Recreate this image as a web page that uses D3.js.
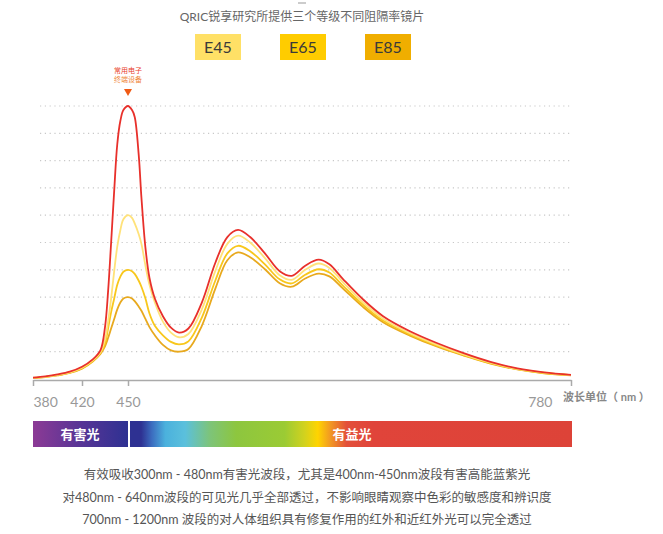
<!DOCTYPE html>
<html>
<head>
<meta charset="utf-8">
<script src="https://cdn.jsdelivr.net/npm/d3@7"></script>
<style>
  body { margin: 0; background: #fff; font-family: Lato, "Noto Sans CJK SC", sans-serif; }
</style>
</head>
<body>
<div id="chart"></div>
<script>
// wavelengths (nm) the curves are sampled at
const wavelengths = [380, 390, 400, 410, 420, 427, 432, 435, 437, 439, 441, 443, 445, 447, 450, 453, 455, 458, 460, 463, 466, 470, 476, 482, 488, 495, 505, 515, 524, 532, 541, 552, 563, 572, 582, 592, 600, 610, 625, 640, 660, 680, 700, 720, 740, 760, 780];

// relative intensity, no lens (red) and the three lens grades
const noLens = [0.05, 0.1, 0.17, 0.27, 0.45, 0.72, 1.05, 1.9, 3.2, 5.0, 6.9, 8.6, 9.45, 9.85, 10.0, 9.85, 9.6, 8.2, 6.65, 4.8, 3.7, 2.95, 2.3, 1.88, 1.7, 1.85, 2.8, 4.25, 5.2, 5.46, 5.2, 4.6, 3.95, 3.78, 4.15, 4.37, 4.2, 3.67, 2.92, 2.3, 1.75, 1.32, 0.95, 0.63, 0.39, 0.24, 0.15];
const e45 = [0.04, 0.08, 0.15, 0.24, 0.41, 0.68, 0.98, 1.45, 2.1, 2.95, 3.95, 4.85, 5.45, 5.85, 6.0, 5.9, 5.7, 5.3, 4.95, 4.15, 3.45, 2.8, 2.1, 1.7, 1.53, 1.65, 2.55, 3.95, 4.95, 5.25, 5.0, 4.43, 3.8, 3.63, 4.0, 4.23, 4.07, 3.55, 2.81, 2.21, 1.68, 1.26, 0.9, 0.6, 0.37, 0.23, 0.14];
const e65 = [0.04, 0.08, 0.14, 0.23, 0.4, 0.66, 0.95, 1.3, 1.85, 2.45, 2.95, 3.45, 3.75, 3.93, 4.0, 3.95, 3.85, 3.6, 3.38, 2.95, 2.4, 1.95, 1.6, 1.36, 1.27, 1.38, 2.25, 3.6, 4.6, 4.88, 4.68, 4.2, 3.65, 3.5, 3.82, 4.02, 3.9, 3.42, 2.72, 2.14, 1.63, 1.22, 0.88, 0.58, 0.36, 0.22, 0.14];
const e85 = [0.03, 0.07, 0.13, 0.22, 0.38, 0.64, 0.92, 1.2, 1.5, 1.85, 2.2, 2.55, 2.8, 2.95, 3.0, 2.95, 2.85, 2.65, 2.5, 2.2, 1.9, 1.6, 1.25, 1.05, 1.0, 1.1, 1.95, 3.3, 4.35, 4.64, 4.46, 4.02, 3.51, 3.38, 3.68, 3.86, 3.76, 3.32, 2.64, 2.08, 1.59, 1.19, 0.86, 0.56, 0.35, 0.21, 0.13];

const seriesNames = ["E85", "E65", "E45", "无镜片"];
const seriesValues = [e85, e65, e45, noLens];
const seriesColors = ["#E8A91E", "#F8C71C", "#FFE27A", "#E8302B"];

const legendLabels = ["E45", "E65", "E85"];
const legendColors = ["#FFE066", "#FFCC00", "#F0AE00"];

const xTicks = [380, 420, 450, 780];

const title = "QRIC锐享研究所提供三个等级不同阻隔率镜片";
const noteLines = ["常用电子", "终端设备"];
const bandLabels = ["有害光", "有益光"];
const captions = [
  "有效吸收300nm - 480nm有害光波段，尤其是400nm-450nm波段有害高能蓝紫光",
  "对480nm - 640nm波段的可见光几乎全部透过，不影响眼睛观察中色彩的敏感度和辨识度",
  "700nm - 1200nm 波段的对人体组织具有修复作用的红外和近红外光可以完全透过"
];

let width = 663,
  height = 534;

let svg = d3.select("#chart")
  .append("svg")
  .attr("width", width)
  .attr("height", height);

// x is not evenly spaced in the original, so piecewise
let x = d3.scaleLinear()
  .domain(xTicks)
  .range([33, 82, 128, 571]);

let y = d3.scaleLinear()
  .domain([0, 10])
  .range([379, 106]);

// little mark at top
svg.append("line")
  .attr("x1", 298).attr("x2", 306)
  .attr("y1", 3).attr("y2", 3)
  .attr("stroke", "#999");

svg.append("text")
  .text(title)
  .attr("x", 302)
  .attr("y", 21)
  .attr("text-anchor", "middle")
  .style("font-size", "12px")
  .style("fill", "#666");

// legend boxes
let legend = svg.append("g")
  .selectAll("g")
  .data(legendLabels)
  .join("g")
  .attr("transform", (d, i) => `translate(${195 + i * 85},34)`);

legend.append("rect")
  .attr("width", 46)
  .attr("height", 26)
  .attr("fill", (d, i) => legendColors[i]);

legend.append("text")
  .text(d => d)
  .attr("x", 23)
  .attr("y", 19)
  .attr("text-anchor", "middle")
  .style("font-size", "16px")
  .style("fill", "#3a3a3a");

// dotted grid
svg.append("g")
  .selectAll("line")
  .data(y.ticks(10).filter(d => d > 0))
  .join("line")
  .attr("x1", 40)
  .attr("x2", 572)
  .attr("y1", d => y(d))
  .attr("y2", d => y(d))
  .attr("stroke", "#c8c8c8")
  .attr("stroke-width", 1.2)
  .attr("stroke-dasharray", "1.2,3.6");

// axis
let axis = svg.append("g")
  .attr("transform", "translate(0,380)")
  .call(d3.axisBottom(x).tickValues(xTicks).tickSize(6).tickSizeOuter(0).tickPadding(11));

axis.select(".domain").attr("stroke", "#aaa").attr("stroke-width", 1.5);
axis.selectAll(".tick line").attr("stroke", "#aaa").attr("stroke-width", 1.5);
axis.selectAll(".tick text")
  .style("font-size", "14px")
  .style("font-family", "Lato, sans-serif")
  .attr("fill", "#999");
axis.selectAll(".tick text").filter(d => d == 380).attr("text-anchor", "start");
axis.selectAll(".tick text").filter(d => d == 780).attr("text-anchor", "end").attr("dx", -19);

svg.append("text")
  .text("波长单位（ nm ）")
  .attr("x", 563)
  .attr("y", 401)
  .style("font-size", "11px")
  .style("font-weight", "bold")
  .style("fill", "#888");

// curves
let line = d3.line()
  .x((d, i) => x(wavelengths[i]))
  .y(d => y(d))
  .curve(d3.curveCatmullRom.alpha(0.5));

svg.append("g")
  .selectAll("path")
  .data(seriesValues)
  .join("path")
  .attr("d", line)
  .attr("fill", "none")
  .attr("stroke", (d, i) => seriesColors[i])
  .attr("stroke-width", 1.8);

// peak annotation
let peakX = x(450);
svg.append("g")
  .selectAll("text")
  .data(noteLines)
  .join("text")
  .text(d => d)
  .attr("x", peakX)
  .attr("y", (d, i) => 73 + i * 9)
  .attr("text-anchor", "middle")
  .style("font-size", "7px")
  .style("fill", (d, i) => i == 0 ? "#E8412C" : "#F0883A");

svg.append("path")
  .attr("d", `M${peakX - 4},89 L${peakX + 4},89 L${peakX},96 Z`)
  .attr("fill", "#F05A14");

// spectrum bar
let defs = svg.append("defs");
let g1 = defs.append("linearGradient").attr("id", "harm");
[["0", "#8C3A95"], ["0.45", "#5C3596"], ["1", "#2E3192"]].forEach(s =>
  g1.append("stop").attr("offset", s[0]).attr("stop-color", s[1]));

let g2 = defs.append("linearGradient").attr("id", "good");
[["0", "#2E3192"], ["0.025", "#2E3192"], ["0.05", "#3C6EC0"], ["0.08", "#4BB1DD"], ["0.125", "#5BC0DC"],
 ["0.18", "#7DC47A"], ["0.24", "#8DC63F"], ["0.35", "#9BCB34"], ["0.395", "#D2D21E"], ["0.425", "#FFD400"],
 ["0.452", "#F29B22"], ["0.49", "#E3503A"], ["0.55", "#E0443A"], ["1", "#DD4338"]].forEach(s =>
  g2.append("stop").attr("offset", s[0]).attr("stop-color", s[1]));

svg.append("rect")
  .attr("x", x(380)).attr("y", 421)
  .attr("width", x(450) - x(380)).attr("height", 26)
  .attr("fill", "url(#harm)");

svg.append("rect")
  .attr("x", x(450) + 2).attr("y", 421)
  .attr("width", x(780) - x(450) - 1).attr("height", 26)
  .attr("fill", "url(#good)");

svg.append("g")
  .selectAll("text")
  .data(bandLabels)
  .join("text")
  .text(d => d)
  .attr("x", (d, i) => i == 0 ? 80 : 352)
  .attr("y", 439)
  .attr("text-anchor", "middle")
  .style("font-size", "13px")
  .style("font-weight", "bold")
  .style("fill", "#fff");

// captions
svg.append("g")
  .selectAll("text")
  .data(captions)
  .join("text")
  .text(d => d)
  .attr("x", 307)
  .attr("y", (d, i) => 479 + i * 22.5)
  .attr("text-anchor", "middle")
  .style("font-size", "12.5px")
  .style("fill", "#555");
</script>
</body>
</html>
